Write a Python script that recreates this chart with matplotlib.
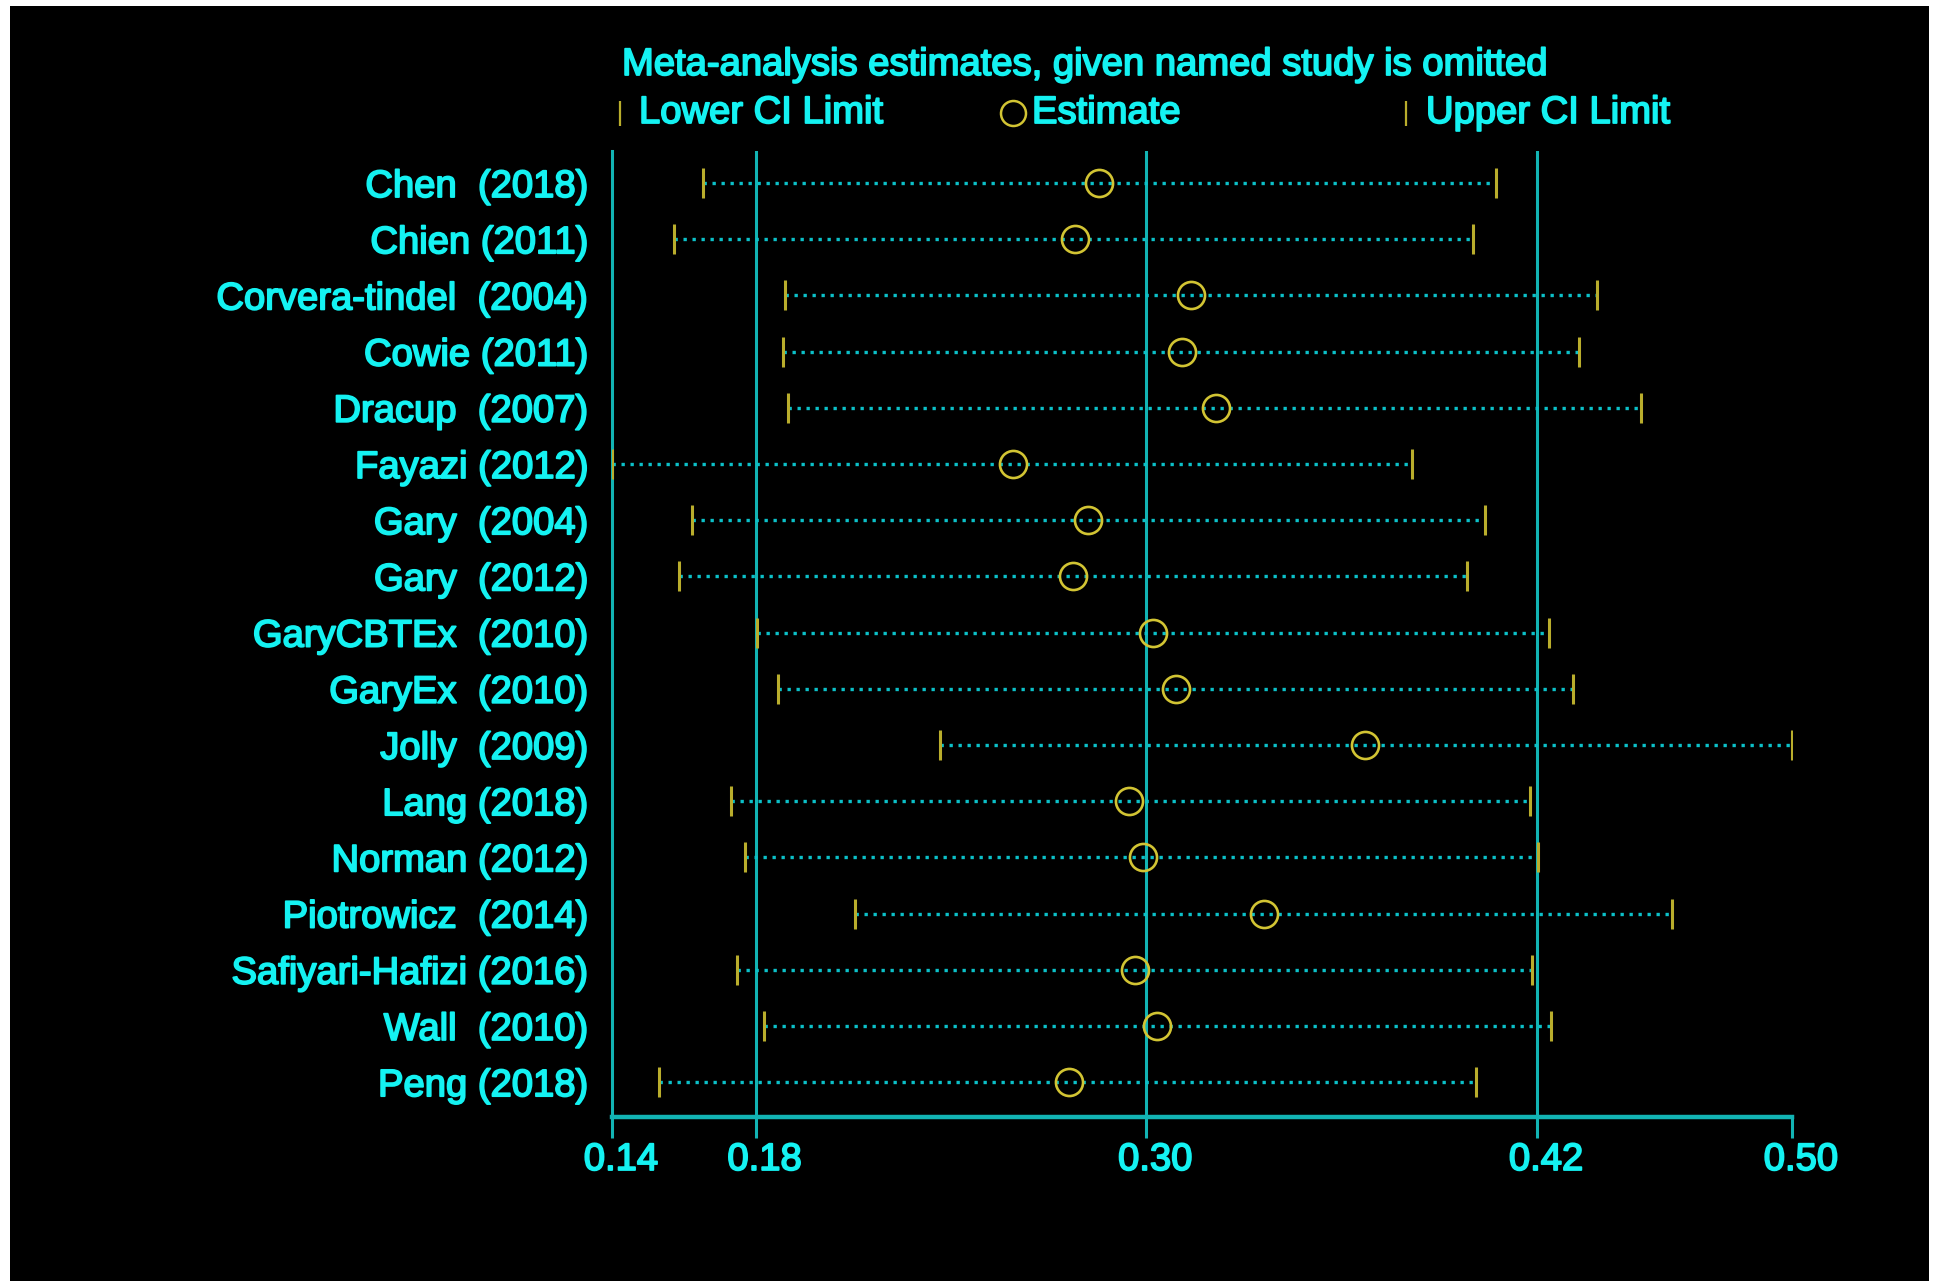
import matplotlib
matplotlib.use("Agg")
import matplotlib.pyplot as plt
import matplotlib.transforms as mtransforms
import matplotlib.patheffects as pe
from matplotlib.patches import Rectangle
from matplotlib.lines import Line2D

# ---------------- data ----------------
studies = ["Chen  (2018)", "Chien (2011)", "Corvera-tindel  (2004)", "Cowie (2011)",
           "Dracup  (2007)", "Fayazi (2012)", "Gary  (2004)", "Gary  (2012)",
           "GaryCBTEx  (2010)", "GaryEx  (2010)", "Jolly  (2009)", "Lang (2018)",
           "Norman (2012)", "Piotrowicz  (2014)", "Safiyari-Hafizi (2016)",
           "Wall  (2010)", "Peng (2018)"]
lower = [0.1637, 0.1549, 0.1891, 0.1884, 0.1899, 0.1359, 0.1606, 0.1565, 0.1804,
         0.1868, 0.2366, 0.1724, 0.1766, 0.2104, 0.1743, 0.1827, 0.1504]
estimate = [0.2856, 0.2780, 0.3137, 0.3110, 0.3213, 0.2590, 0.2822, 0.2776, 0.3019,
            0.3091, 0.3672, 0.2947, 0.2989, 0.3361, 0.2966, 0.3034, 0.2761]
upper = [0.4075, 0.4003, 0.4383, 0.4329, 0.4519, 0.3817, 0.4041, 0.3984, 0.4238,
         0.4310, 0.4983, 0.4178, 0.4204, 0.4614, 0.4185, 0.4242, 0.4014]
overall = [0.18, 0.30, 0.42]              # overall lower CI, estimate, upper CI
tick_values = [min(lower), 0.18, 0.30, 0.42, max(upper)]
tick_labels = ["0.14", "0.18", "0.30", "0.42", "0.50"]
title_text = "Meta-analysis estimates, given named study is omitted"
legend_labels = ["Lower CI Limit", "Estimate", "Upper CI Limit"]

# ---------------- style ----------------
TEXT = "#14f2f2"
GRID = "#12b4b4"
DOTS = "#0cc0c8"
CIC = "#b9ad2c"
EST = "#d2c433"
FONT = ["Liberation Sans", "DejaVu Sans"]
FS = 27.5
BOLDEN = [pe.withStroke(linewidth=1.3, foreground=TEXT)]

W, H = 1939, 1281
fig = plt.figure(figsize=(W / 100, H / 100), dpi=100, facecolor="white")
fig.add_artist(Rectangle((10 / W, 0), 1919 / W, (H - 6) / H, transform=fig.transFigure,
                         facecolor="black", edgecolor="none", zorder=-10))

ax = fig.add_axes([612 / W, 164 / H, 1180 / W, 966 / H])
ax.set_facecolor("black")
ax.patch.set_alpha(0)

n = len(studies)
ys = list(range(n))
ax.set_xlim(min(lower), max(upper))
ax.set_ylim(n - 1 + 0.62, -0.57)

for v in overall:
    ax.axvline(v, color=GRID, lw=2.2, zorder=1)

for y, lo, es, up in zip(ys, lower, estimate, upper):
    ax.plot([lo, up], [y, y], color=DOTS, lw=2.4, linestyle=(0, (1, 1.7)),
            dash_capstyle="butt", zorder=2)
ax.plot(lower, ys, linestyle="none", marker="|", markersize=21.5, mew=2.2,
        color=CIC, zorder=3)
ax.plot(upper, ys, linestyle="none", marker="|", markersize=21.5, mew=2.2,
        color=CIC, zorder=3)
ax.plot(estimate, ys, linestyle="none", marker="o", markersize=19.5, mew=1.9,
        mfc="none", mec=EST, zorder=4)

for s in ["top", "right"]:
    ax.spines[s].set_visible(False)
ax.spines["left"].set_color(GRID)
ax.spines["left"].set_linewidth(2.2)
ax.spines["bottom"].set_color(GRID)
ax.spines["bottom"].set_linewidth(3.2)

ax.set_yticks(ys)
ax.set_yticklabels(studies, fontsize=FS, color=TEXT, family=FONT)
ax.tick_params(axis="y", length=0, pad=17)

ax.set_xticks(tick_values)
ax.set_xticklabels(tick_labels, fontsize=FS, color=TEXT, family=FONT)
ax.tick_params(axis="x", length=15, width=2.2, color=GRID, pad=3)
offset = mtransforms.ScaledTranslation(9 / 100, 0, fig.dpi_scale_trans)
for lab in ax.get_xticklabels():
    lab.set_transform(lab.get_transform() + offset)
for lab in ax.get_xticklabels() + ax.get_yticklabels():
    lab.set_path_effects(BOLDEN)

# title and legend
fig.text(622 / W, 1 - 65 / H, title_text, fontsize=FS, color=TEXT, family=FONT,
         ha="left", va="center", path_effects=BOLDEN)
ly = 1 - 113 / H
fig.add_artist(Line2D([620 / W], [ly], marker="|", markersize=18, mew=1.6, color=CIC,
                      linestyle="none", transform=fig.transFigure))
fig.text(639 / W, ly, legend_labels[0], fontsize=FS, color=TEXT, family=FONT,
         ha="left", va="center", path_effects=BOLDEN)
fig.add_artist(Line2D([1013 / W], [ly], marker="o", markersize=18, mew=1.8, mfc="none",
                      mec=EST, linestyle="none", transform=fig.transFigure))
fig.text(1032 / W, ly, legend_labels[1], fontsize=FS, color=TEXT, family=FONT,
         ha="left", va="center", path_effects=BOLDEN)
fig.add_artist(Line2D([1406 / W], [ly], marker="|", markersize=18, mew=1.6, color=CIC,
                      linestyle="none", transform=fig.transFigure))
fig.text(1426 / W, ly, legend_labels[2], fontsize=FS, color=TEXT, family=FONT,
         ha="left", va="center", path_effects=BOLDEN)

fig.savefig("out.png", dpi=100, facecolor=fig.get_facecolor())
